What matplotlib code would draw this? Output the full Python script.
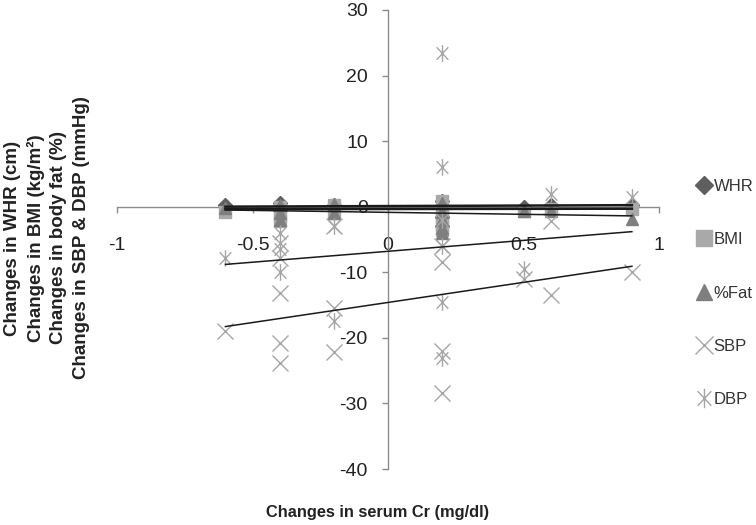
import matplotlib
matplotlib.use('Agg')
import matplotlib.pyplot as plt
import numpy as np
from matplotlib.path import Path
from matplotlib.lines import Line2D

plt.rcParams['font.family'] = ['Liberation Sans', 'DejaVu Sans']
plt.rcParams['axes.unicode_minus'] = False

# 数据
cr_whr = [-0.6, -0.4, -0.4, -0.2, 0.2, 0.2, 0.2, 0.5, 0.6, 0.9]
whr = [0.2, -0.5, 0.5, 0.3, 0.8, -1.5, -3.0, 0.0, 0.2, 0.3]

cr_bmi = [-0.6, -0.4, -0.4, -0.4, -0.2, -0.2, 0.2, 0.2, 0.2, 0.2, 0.2, 0.5, 0.6, 0.9]
bmi = [-0.8, 0.0, -1.2, -2.2, 0.3, -0.9, 0.8, -0.5, -1.5, -2.8, -3.5, -0.6, -0.4, -0.3]

cr_fat = [-0.6, -0.4, -0.4, -0.4, -0.2, -0.2, 0.2, 0.2, 0.2, 0.2, 0.2, 0.5, 0.6, 0.9]
fat = [-0.2, 0.2, -1.0, -2.0, 0.4, -0.9, 0.5, -0.8, -2.0, -3.2, -4.0, -0.6, -0.6, -1.8]

cr_sbp = [-0.6, -0.4, -0.4, -0.4, -0.4, -0.4, -0.2, -0.2, -0.2, 0.2, 0.2, 0.2, 0.2, 0.5, 0.6, 0.6, 0.9]
sbp = [-18.9, -5.5, -7.8, -13.1, -20.8, -23.8, -3.0, -15.5, -22.2, -6.0, -8.5, -22.0, -28.4, -11.0, -2.2, -13.5, -10.0]

cr_dbp = [-0.6, -0.4, -0.4, -0.4, -0.2, -0.2, 0.2, 0.2, 0.2, 0.2, 0.2, 0.2, 0.5, 0.6, 0.9]
dbp = [-7.8, -4.0, -6.5, -10.0, -3.0, -17.5, 23.5, 6.0, -2.0, -6.0, -14.5, -23.0, -9.5, 2.0, 1.5]

# 趋势线 (斜率, 截距)
trend_whr = (0.15, 0.1)
trend_bmi = (0.05, -0.35)
trend_fat = (-0.6, -0.86)
trend_sbp = (6.13, -14.6)
trend_dbp = (3.33, -6.8)

# 星号标记：X + 竖线
star = Path([(0, -1), (0, 1), (-0.7, -0.75), (0.7, 0.75), (-0.7, 0.75), (0.7, -0.75)],
            [Path.MOVETO, Path.LINETO, Path.MOVETO, Path.LINETO, Path.MOVETO, Path.LINETO])

fig = plt.figure(figsize=(7.56, 5.25), dpi=100)
ax = fig.add_axes([117/756, 1 - 469/525, (659 - 117)/756, (469 - 10)/525])

c_whr, c_bmi, c_fat, c_x = '#5f5f5f', '#a9a9a9', '#7f7f7f', '#a6a6a6'

ax.plot(cr_whr, whr, ls='none', marker='D', ms=7, color=c_whr, mec=c_whr, zorder=3)
ax.plot(cr_bmi, bmi, ls='none', marker='s', ms=9, color=c_bmi, mec=c_bmi, zorder=3)
ax.plot(cr_fat, fat, ls='none', marker='^', ms=9, color=c_fat, mec=c_fat, zorder=3)
ax.plot(cr_sbp, sbp, ls='none', marker='x', ms=11, mew=1, color=c_x, zorder=3)
ax.plot(cr_dbp, dbp, ls='none', marker=star, ms=12, mew=1, color=c_x, mec=c_x, zorder=3)

# 趋势线
xs = np.array([-0.6, 0.9])
for (k, b), lw in [(trend_whr, 1.8), (trend_bmi, 1.8), (trend_fat, 1.1),
                   (trend_sbp, 1.1), (trend_dbp, 1.1)]:
    ax.plot(xs, k * xs + b, color='#1a1a1a', lw=lw, zorder=4)

# 坐标轴
ax.set_xlim(-1, 1)
ax.set_ylim(-40, 30)
for s in ['top', 'right']:
    ax.spines[s].set_visible(False)
ax.spines['left'].set_position(('data', 0))
ax.spines['bottom'].set_position(('data', 0))
for s in ['left', 'bottom']:
    ax.spines[s].set_color('#8c8c8c')
    ax.spines[s].set_linewidth(1)
    ax.spines[s].set_zorder(2)

ax.set_xticks([-1, -0.5, 0, 0.5, 1])
ax.set_xticklabels(['-1', '-0.5', '0', '0.5', '1'])
ax.set_yticks(range(-40, 31, 10))
ax.set_yticklabels([str(v) for v in range(-40, 31, 10)])
ax.tick_params(axis='x', direction='out', length=4, width=1, color='#8c8c8c',
               pad=18, labelsize=14, labelcolor='#222222')
ax.tick_params(axis='y', direction='out', length=4.5, width=1, color='#8c8c8c',
               pad=10, labelsize=14, labelcolor='#222222')
for t in ax.get_xticklabels():
    t.set_zorder(1)

# 轴标题
fig.text(378/756, 1 - 512/525, 'Changes in serum Cr (mg/dl)', ha='center', va='center',
         fontsize=11.8, fontweight='bold', color='#222222')
fig.text(47/756, 1 - 238/525,
         'Changes in WHR (cm)\nChanges in BMI (kg/m²)\nChanges in body fat (%)\nChanges in SBP & DBP (mmHg)',
         ha='center', va='center', rotation=90, fontsize=13.5, fontweight='bold',
         color='#222222', linespacing=1.4, multialignment='center')

# 图例
handles = [
    Line2D([], [], ls='none', marker='D', ms=9, color=c_whr),
    Line2D([], [], ls='none', marker='s', ms=12, color=c_bmi),
    Line2D([], [], ls='none', marker='^', ms=12, color=c_fat),
    Line2D([], [], ls='none', marker='x', ms=13, mew=1, color=c_x),
    Line2D([], [], ls='none', marker=star, ms=14, mew=1, color=c_x),
]
fig.legend(handles, ['WHR', 'BMI', '%Fat', 'SBP', 'DBP'], loc='center left',
           bbox_to_anchor=(697/756, 1 - 293/525), frameon=False, fontsize=12,
           labelspacing=2.3, handlelength=0.8, handletextpad=0.2,
           borderpad=0, borderaxespad=0, labelcolor='#333333')

plt.savefig('out.png', dpi=100)
